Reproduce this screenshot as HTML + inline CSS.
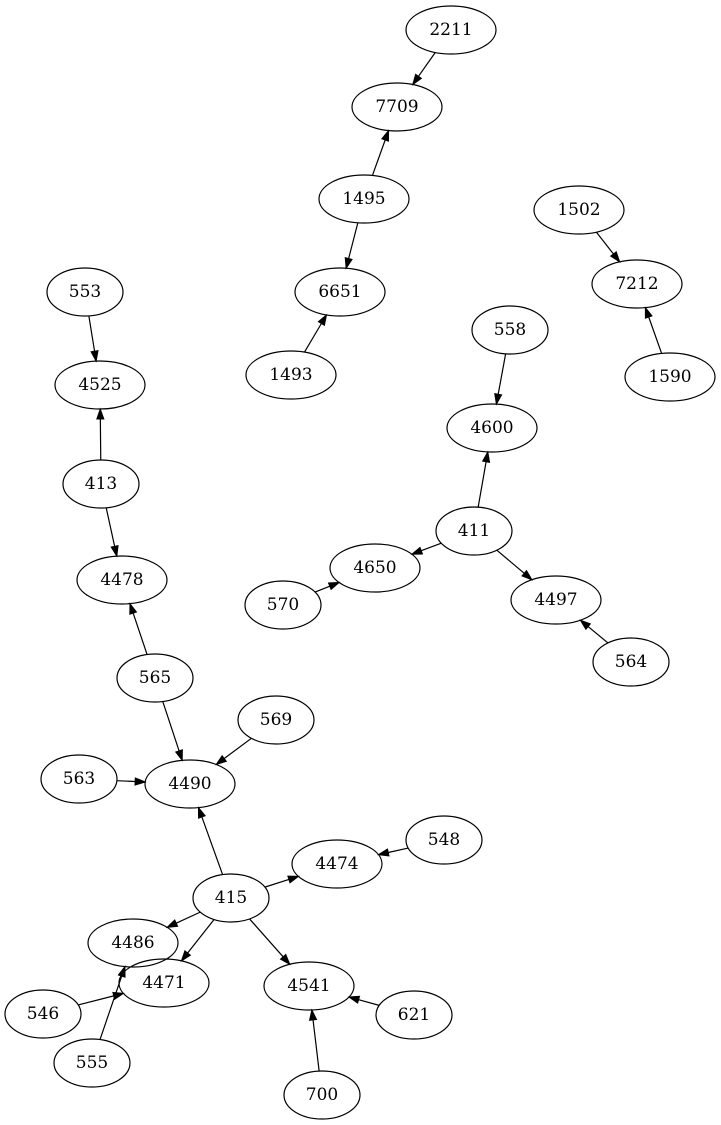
<!DOCTYPE html>
<html><head><meta charset="utf-8"><style>
html,body{margin:0;padding:0;background:#fff;width:721px;height:1125px;overflow:hidden}
svg text{font-family:"DejaVu Serif","Liberation Serif",serif;font-size:17px;text-anchor:middle;dominant-baseline:central}
</style></head><body>
<svg id="g" width="721" height="1125" viewBox="0 0 721 1125" xmlns="http://www.w3.org/2000/svg">
<g id="edges"></g>
<g id="nodes" fill="none" stroke="#000" stroke-width="1.2">
<ellipse cx="451" cy="30" rx="45" ry="24"/><ellipse cx="397" cy="107" rx="45" ry="24"/>
<ellipse cx="364" cy="199" rx="45" ry="24"/><ellipse cx="340" cy="292" rx="45" ry="24"/>
<ellipse cx="291" cy="375" rx="45" ry="24"/><ellipse cx="579" cy="210" rx="45" ry="24"/>
<ellipse cx="637" cy="284" rx="45" ry="24"/><ellipse cx="670" cy="377" rx="45" ry="24"/>
<ellipse cx="85" cy="292" rx="38" ry="24"/><ellipse cx="100" cy="385" rx="45" ry="24"/>
<ellipse cx="101" cy="484" rx="38" ry="24"/><ellipse cx="122" cy="580" rx="45" ry="24"/>
<ellipse cx="510" cy="330" rx="38" ry="24"/><ellipse cx="492" cy="428" rx="45" ry="24"/>
<ellipse cx="474" cy="531" rx="38" ry="24"/><ellipse cx="375" cy="568" rx="45" ry="24"/>
<ellipse cx="556" cy="600" rx="45" ry="24"/><ellipse cx="283" cy="605" rx="38" ry="24"/>
<ellipse cx="631" cy="662" rx="38" ry="24"/><ellipse cx="155" cy="678" rx="38" ry="24"/>
<ellipse cx="276" cy="720" rx="38" ry="24"/><ellipse cx="79" cy="779" rx="38" ry="24"/>
<ellipse cx="190" cy="784" rx="45" ry="24"/><ellipse cx="337" cy="864" rx="45" ry="24"/>
<ellipse cx="444" cy="840" rx="38" ry="24"/><ellipse cx="231" cy="898" rx="38" ry="24"/>
<ellipse cx="133" cy="943" rx="45" ry="24"/><ellipse cx="164" cy="983" rx="45" ry="24"/>
<ellipse cx="309" cy="986" rx="45" ry="24"/><ellipse cx="43" cy="1014" rx="38" ry="24"/>
<ellipse cx="92" cy="1063" rx="38" ry="24"/><ellipse cx="414" cy="1015" rx="38" ry="24"/>
<ellipse cx="322" cy="1095" rx="38" ry="24"/>
</g>
<g id="labels">
<text x="451" y="30">2211</text><text x="397" y="107">7709</text><text x="364" y="199">1495</text>
<text x="340" y="292">6651</text><text x="291" y="375">1493</text><text x="579" y="210">1502</text>
<text x="637" y="284">7212</text><text x="670" y="377">1590</text><text x="85" y="292">553</text>
<text x="100" y="385">4525</text><text x="101" y="484">413</text><text x="122" y="580">4478</text>
<text x="510" y="330">558</text><text x="492" y="428">4600</text><text x="474" y="531">411</text>
<text x="375" y="568">4650</text><text x="556" y="600">4497</text><text x="283" y="605">570</text>
<text x="631" y="662">564</text><text x="155" y="678">565</text><text x="276" y="720">569</text>
<text x="79" y="779">563</text><text x="190" y="784">4490</text><text x="337" y="864">4474</text>
<text x="444" y="840">548</text><text x="231" y="898">415</text><text x="133" y="943">4486</text>
<text x="164" y="983">4471</text><text x="309" y="986">4541</text><text x="43" y="1014">546</text>
<text x="92" y="1063">555</text><text x="414" y="1015">621</text><text x="322" y="1095">700</text>
</g>
</svg>
<script>
var N={};
var els=document.querySelectorAll('#nodes ellipse'),ts=document.querySelectorAll('#labels text');
for(var i=0;i<els.length;i++){var e=els[i];N[ts[i].textContent]=[+e.getAttribute('cx'),+e.getAttribute('cy'),+e.getAttribute('rx'),+e.getAttribute('ry')];}
var E=[["2211","7709"],["1495","7709"],["1495","6651"],["1493","6651"],["1502","7212"],["1590","7212"],["553","4525"],["413","4525"],["413","4478"],["558","4600"],["411","4600"],["411","4650"],["411","4497"],["570","4650"],["564","4497"],["565","4478"],["565","4490"],["569","4490"],["563","4490"],["415","4490"],["415","4474"],["548","4474"],["415","4486"],["415","4471"],["415","4541"],["621","4541"],["700","4541"],["546","4471"],["555","4486"]];
function clip(n,dx,dy){var t=1/Math.sqrt(dx*dx/(n[2]*n[2])+dy*dy/(n[3]*n[3]));return [n[0]+dx*t,n[1]+dy*t];}
var s='';
E.forEach(function(p){var a=N[p[0]],b=N[p[1]];var dx=b[0]-a[0],dy=b[1]-a[1],L=Math.hypot(dx,dy),ux=dx/L,uy=dy/L;
var st=clip(a,dx,dy),en=clip(b,-dx,-dy);
var bx=en[0]-ux*10,by=en[1]-uy*10,px=-uy*3.5,py=ux*3.5;
s+='<line x1="'+st[0]+'" y1="'+st[1]+'" x2="'+bx+'" y2="'+by+'" stroke="#000" stroke-width="1.2"/>';
s+='<polygon points="'+en[0]+','+en[1]+' '+(bx+px)+','+(by+py)+' '+(bx-px)+','+(by-py)+'" fill="#000" stroke="#000"/>';});
document.getElementById('edges').innerHTML=s;
</script>
</body></html>
